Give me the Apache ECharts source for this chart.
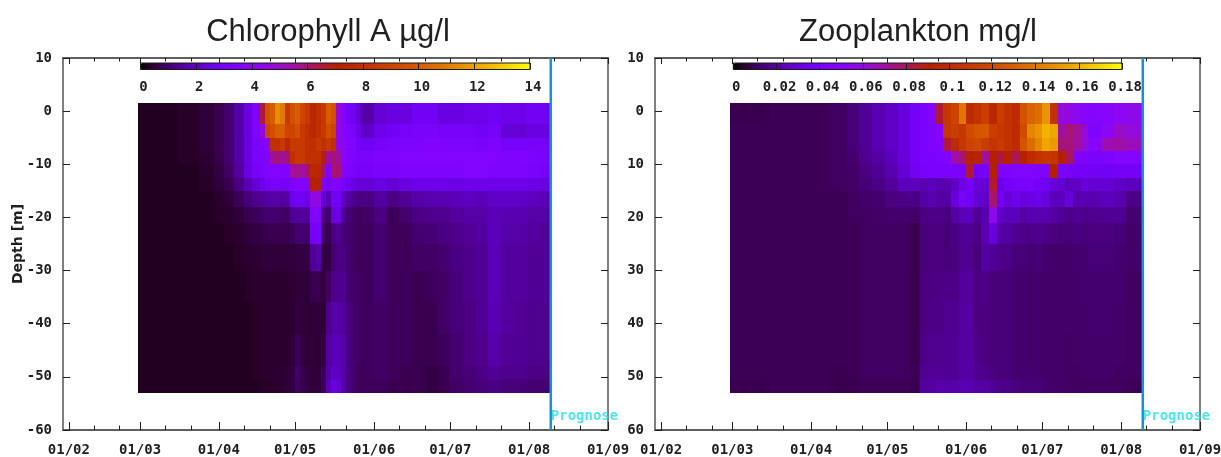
<!DOCTYPE html>
<html><head><meta charset="utf-8">
<style>html,body{margin:0;padding:0;background:#fff}#c{width:1221px;height:457px;filter:blur(0.5px)}</style>
<script src="https://cdn.jsdelivr.net/npm/echarts@6/dist/echarts.min.js"></script>
</head><body><div id="c"></div>
<script>
const titles = ['Chlorophyll A µg/l', 'Zooplankton mg/l'];
const majorDays = [32, 60, 91, 121, 152, 182, 213, 244];
const monthLabels = ['01/02','01/03','01/04','01/05','01/06','01/07','01/08','01/09'];
const minorDays = [42,52,70,80,101,111,131,141,162,172,192,202,223,233];
const depthTicks = [-60,-50,-40,-30,-20,-10,0,10];
const depthLabelsLeft = ['-60','-50','-40','-30','-20','-10','0','10'];
const depthLabelsRight = ['60','50','40','30','20','10','0','10'];
const chlBarLabels = ['0','2','4','6','8','10','12','14'];
const zooBarLabels = ['0','0.02','0.04','0.06','0.08','0.1','0.12','0.14','0.16','0.18'];
const prognoseDay = 221.5;
const prognoseLabelDepth = -57.4;
const palette = ['#000000','#280028','#39004f','#460074','#510096','#5a00b4','#6301ce','#6b01e3','#7202f3','#7903fc','#8004ff','#8605fc','#8c07f3','#9109e3','#970bce','#9c0db4','#a11096','#a61474','#ab174f','#b01b28','#b42000','#b92500','#bd2a00','#c13000','#c63700','#ca3e00','#ce4600','#d14e00','#d55700','#d96100','#dd6c00','#e07700','#e48300','#e88f00','#eb9d00','#eeab00','#f2ba00','#f5ca00','#f9db00','#fcec00','#ffff00'];
const depthEdges = [1.5,-2.5,-5,-7.5,-10,-12.5,-15,-18,-21,-25,-30,-36,-42,-48,-50.5,-53];
const chlDayEdges = [59,67,75,83,89,93,97,101,104,107,109,111,113,115,117,119,121,123,125,127,129,131,133,135,137,139,141,143,145,147,152,157,162,167,172,177,182,187,192,197,202,207,212,217,221.2];
const zooDayEdges = [59.2,75,90,98,105,110,115,120,125,130,134,137,140,143,146,149,152,155,158,161,164,167,170,173,176,179,182,185,188,191,194,197,200,205,210,215,221.6];
// µg/l, one inner list per time column, surface to bottom
const chlColumns = [
[.3,.3,.3,.3,.3,.3,.3,.3,.3,.3,.3,.3,.3,.3,.3],
[.3,.3,.3,.3,.3,.3,.3,.3,.3,.3,.3,.3,.3,.3,.3],
[.35,.35,.35,.35,.3,.3,.3,.3,.3,.3,.3,.3,.3,.3,.3],
[.5,.5,.5,.45,.4,.35,.3,.3,.3,.3,.3,.3,.3,.3,.3],
[.7,.7,.7,.65,.6,.5,.4,.35,.3,.3,.3,.3,.3,.3,.3],
[1,1,1,1,.9,.7,.5,.4,.35,.3,.3,.3,.3,.3,.3],
[1.6,1.6,1.6,1.6,1.5,1.2,.8,.5,.4,.35,.3,.3,.3,.3,.3],
[2.4,2.4,2.4,2.4,2.4,1.8,1.1,.7,.5,.4,.35,.3,.3,.3,.3],
[3.4,3.4,3.2,3.2,3,2.2,1.3,.8,.6,.45,.4,.35,.35,.35,.3],
[6.5,4.5,3.6,3.4,3.2,2.6,1.4,.9,.6,.5,.4,.4,.4,.4,.35],
[9.5,9,3.8,3.6,3.4,3,1.5,1,.7,.5,.4,.4,.4,.4,.35],
[10,9.5,8,5.5,3.6,3.2,1.6,1,.7,.5,.4,.4,.4,.4,.35],
[11.5,10,8,6,3.6,3.2,1.6,1,.7,.5,.4,.4,.4,.4,.4],
[11,10,8.5,5.5,3.4,3,1.5,.9,.7,.5,.4,.4,.4,.45,.45],
[8.5,9,7.5,6,3.6,3,1.6,.9,.7,.5,.4,.4,.45,.5,.5],
[9.5,9,8.5,8,5.5,3.4,2.6,1.4,.8,.5,.45,.45,.5,.6,.6],
[10,9.5,8.5,8.5,5.8,3.6,2.8,1.5,1,.6,.5,.6,.8,1,.9],
[9,8.5,8.5,8.5,5.5,3.5,2.8,1.5,1,.6,.5,.5,.6,.7,.7],
[8.5,8,8,8,6,3.5,2.6,1.4,.9,.6,.45,.45,.45,.5,.5],
[7.5,7.5,8,8,7.5,7,4.5,3.5,3,1.4,.7,.5,.5,.5,.5],
[8,8,8.5,8,7.5,7,4.5,3.6,3.2,1.6,.7,.5,.45,.5,.5],
[8.5,8.5,8,7,6,3.5,2.2,1.2,.9,.6,.5,.45,.6,.8,.8],
[10,9.5,8.5,5.5,3.6,3.2,1.8,1,.7,.6,.9,1.3,1.5,1.6,1.8],
[9.5,9,8,6,6,3.5,2.8,2.4,1.2,1,1.3,1.6,1.8,2,2.4],
[4.8,4.5,4.5,5.5,6,3.4,2.8,2.6,1.4,1.2,1.3,1.6,1.8,1.9,2.2],
[3.6,3.8,4,4,3.8,3,2,1.4,1.1,1.2,1.4,1.5,1.6,1.6,1.6],
[3,3.4,3.6,3.6,3.4,2.8,1.6,1.1,1,1,1,1.2,1.2,1.2,1.2],
[2.8,3.2,3.5,3.5,3.2,2.4,1.3,.9,.9,.9,1,1,1,1,1],
[2.2,2.6,3,3.2,3,2.2,1.2,.8,.8,.8,.9,.9,.9,.8,.8],
[1.6,2,2.8,3.2,3,2.2,1.2,.9,.8,.8,.8,.8,.8,.8,.8],
[2.2,2.6,3,3.4,3.2,2.4,1.5,1.2,1,1,1,.9,.9,.9,.8],
[2.4,2.8,3.2,3.4,3.2,2.2,1.2,.8,.8,.8,.8,.8,.8,.8,.7],
[2.4,3,3.4,3.6,3.4,2.4,1.4,1,.8,.8,.8,.8,.8,.7,.7],
[2.8,3.2,3.4,3.6,3.4,2.6,1.6,1.2,1,.9,.7,.7,.7,.7,.7],
[2.8,3.2,3.6,3.6,3.4,2.6,1.7,1.3,1.1,.9,.8,.7,.7,.6,.6],
[2.4,3,3.4,3.6,3.4,2.6,1.7,1.3,1.2,1,.9,.9,.8,.7,.7],
[2.4,3,3.4,3.6,3.4,2.5,1.8,1.5,1.3,1.2,1.1,1.1,1,1,.9],
[2.6,3,3.4,3.6,3.5,2.6,1.9,1.6,1.4,1.3,1.3,1.2,1.2,1.1,1],
[2.6,2.8,3.2,3.6,3.5,2.6,1.8,1.6,1.5,1.4,1.4,1.4,1.3,1.2,1.1],
[2.8,3,3.4,3.6,3.4,2.6,2,1.8,1.8,1.8,1.8,1.7,1.6,1.4,1.2],
[2.6,2.2,3,3.4,3.4,2.6,2,1.7,1.6,1.5,1.5,1.5,1.4,1.3,1.1],
[2.6,2.2,3,3.5,3.4,2.6,2,1.7,1.6,1.5,1.5,1.4,1.4,1.3,1.1],
[2.8,2.4,3,3.3,3.2,2.5,1.9,1.6,1.5,1.4,1.4,1.3,1.3,1.2,1],
[2.8,2.4,3,3.2,3,2.4,1.8,1.6,1.4,1.4,1.4,1.3,1.3,1.2,1]
];
// µg/l (axis labelled in mg/l)
const zooColumns = [
[9,10,10,10,10,10,10,10,10,10,10,10,10,10,9],
[10,10,10,10,10,10,10,10,10,10,10,10,10,10,10],
[10,10,10,10,10,10,10,10,10,10,10,10,10,10,10],
[11,11,11,11,11,11,10,10,10,10,10,10,10,9,9],
[14,14,14,13,12,12,11,11,10,10,10,10,10,10,9],
[18,18,18,17,15,14,12,11,11,11,11,11,11,11,10],
[22,22,22,20,18,16,13,12,11,11,11,11,11,11,10],
[26,26,26,24,22,19,15,13,11,11,11,11,11,11,10],
[30,30,30,30,28,24,16,13,11,11,11,11,11,11,10],
[38,38,38,38,36,24,16,12,9,9,9,9,9,10,9],
[42,42,42,42,40,22,20,15,14,14,15,15,16,17,19],
[46,44,44,42,42,24,22,16,15,15,15,16,17,18,20],
[84,50,46,44,42,22,20,16,15,15,16,16,17,18,21],
[108,108,84,46,42,22,20,15,14,14,16,17,17,18,21],
[116,112,100,70,42,26,30,20,16,15,16,17,18,18,21],
[140,108,108,76,42,34,40,24,18,18,19,20,20,20,22],
[100,120,116,92,84,38,36,24,18,17,19,20,20,20,22],
[104,125,118,94,38,30,28,18,15,14,15,15,16,17,20],
[112,126,112,70,40,28,26,22,22,20,16,15,15,16,20],
[96,112,106,90,90,85,78,56,30,18,14,14,14,15,18],
[112,108,110,82,44,34,38,26,20,16,14,14,14,14,16],
[104,104,104,92,44,38,30,24,20,16,14,14,14,14,16],
[100,100,100,80,46,40,34,24,17,14,13,13,13,13,15],
[124,120,125,92,46,40,30,20,16,14,13,13,13,13,14],
[132,145,135,100,46,42,32,22,16,13,12,12,12,13,14],
[136,150,145,105,44,38,34,22,17,14,13,13,13,13,14],
[150,160,156,108,44,36,30,22,16,13,12,12,12,12,13],
[104,156,152,106,90,30,24,20,15,12,12,12,12,12,12],
[60,70,76,90,42,28,24,18,14,12,12,12,12,12,12],
[58,76,76,80,40,24,30,16,14,12,12,12,11,11,11],
[54,72,70,46,38,26,22,18,15,13,12,12,12,11,11],
[50,60,62,44,38,30,22,16,14,13,13,12,12,12,11],
[48,44,50,42,36,28,22,17,15,14,13,13,12,12,11],
[50,52,68,44,36,28,24,18,15,14,13,13,12,12,11],
[54,64,70,48,38,26,22,18,14,13,13,12,12,11,11],
[56,60,66,48,38,24,16,13,12,12,11,11,11,11,10]
];

const INK = '#1f1f1f', FRAME = '#555555';
const MONO = {fontFamily:'"DejaVu Sans Mono"', fontWeight:'bold', fontSize:14, color:INK};
const PANELS = [
  {left:63, xMin:29.7, grid:{l:63,w:545}, bar:{l:140.5,w:389.5}, barMax:14, barInterval:2, barLabels:chlBarLabels, depthLabels:depthLabelsLeft, edges:chlDayEdges, cols:chlColumns, name:'Depth [m]'},
  {left:655, xMin:29.6, grid:{l:655,w:545}, bar:{l:733.3,w:388.7}, barMax:180, barInterval:20, barLabels:zooBarLabels, depthLabels:depthLabelsRight, edges:zooDayEdges, cols:zooColumns, name:''}
];

function rows(edges, cols){
  const out = [];
  cols.forEach((col,i)=>col.forEach((v,j)=>out.push([edges[i],edges[i+1],depthEdges[j],depthEdges[j+1],v])));
  return out;
}
function renderCell(params, api){
  const a = api.coord([api.value(0), api.value(2)]);
  const b = api.coord([api.value(1), api.value(3)]);
  const x = Math.round(a[0]), y = Math.round(a[1]);
  return {type:'rect', shape:{x, y, width:Math.round(b[0])-x, height:Math.round(b[1])-y}, style:{fill:api.visual('color')}};
}
function xAxisFor(gi, xMin, position, values, len, withLabels){
  return {type:'value', gridIndex:gi, position, min:xMin, max:244, splitLine:{show:false},
    axisLine:{show:true, onZero:false, lineStyle:{color:FRAME, width:1.5}},
    axisTick:{show:true, inside:true, length:len, customValues:values, lineStyle:{color:INK, width:1}},
    axisLabel: withLabels ? Object.assign({show:true, margin:13, customValues:values, hideOverlap:false,
      formatter:v=>monthLabels[majorDays.indexOf(v)]}, MONO) : {show:false}};
}
function yAxisFor(gi, position, labels, name){
  return {type:'value', gridIndex:gi, position, min:-60, max:10, interval:10, splitLine:{show:false},
    name, nameLocation:'middle', nameGap:38, nameMoveOverlap:false,
    nameTextStyle:{fontFamily:'"DejaVu Sans"', fontWeight:'bold', fontSize:14, color:INK},
    axisLine:{show:true, onZero:false, lineStyle:{color:FRAME, width:1.5}},
    axisTick:{show:true, inside:true, length:7, lineStyle:{color:INK, width:1}},
    axisLabel: labels ? Object.assign({show:true, margin:11, formatter:v=>labels[depthTicks.indexOf(v)]}, MONO) : {show:false}};
}
const grid=[], xAxis=[], yAxis=[], series=[], visualMap=[];
PANELS.forEach((p,k)=>{
  const gi = grid.length;
  grid.push({left:p.grid.l, width:p.grid.w, top:58, height:372, show:false, outerBoundsMode:'none'});
  const base = xAxis.length, yb = yAxis.length;
  xAxis.push(xAxisFor(gi,p.xMin,'bottom',majorDays,8,true), xAxisFor(gi,p.xMin,'bottom',minorDays,4.5,false),
             xAxisFor(gi,p.xMin,'top',majorDays,6,false), xAxisFor(gi,p.xMin,'top',minorDays,3.5,false));
  yAxis.push(yAxisFor(gi,'left',p.depthLabels,p.name), yAxisFor(gi,'right',null,''));
  const cellSeries = series.length;
  series.push({type:'custom', xAxisIndex:base, yAxisIndex:yb, renderItem:renderCell, silent:true, clip:false, z:1,
    encode:{x:[0,1], y:[2,3]}, data:rows(p.edges,p.cols)});
  series.push({type:'line', xAxisIndex:base, yAxisIndex:yb, silent:true, showSymbol:false, clip:false, z:3,
    lineStyle:{color:'#1b8fd2', width:2.5}, data:[[prognoseDay,-60],[prognoseDay,10]]});
  series.push({type:'scatter', xAxisIndex:base, yAxisIndex:yb, silent:true, symbolSize:0, clip:false, z:4,
    label:Object.assign({show:true, position:'right', distance:0, formatter:'Prognose'}, MONO, {color:'#22dfe8'}),
    data:[[prognoseDay,prognoseLabelDepth]]});
  const gb = grid.length;
  grid.push({left:p.bar.l, width:p.bar.w, top:63, height:6.5, show:true, z:6, backgroundColor:'transparent', borderColor:'#1a1a1a', borderWidth:1, outerBoundsMode:'none'});
  xAxis.push({type:'value', gridIndex:gb, z:6, min:0, max:p.barMax, interval:p.barInterval, position:'bottom', splitLine:{show:false},
    axisLine:{show:false, onZero:false}, axisTick:{show:true, inside:true, length:6.5, lineStyle:{color:'#1a1a1a', width:1}},
    axisLabel:Object.assign({show:true, margin:11, showMinLabel:true, showMaxLabel:true, hideOverlap:false, padding:[0,0,0,6],
      formatter:(v)=>p.barLabels[Math.round(v/p.barInterval)]}, MONO)});
  yAxis.push({type:'value', gridIndex:gb, min:0, max:1, show:false});
  visualMap.push({type:'continuous', seriesIndex:cellSeries, dimension:4, min:0, max:p.barMax, orient:'horizontal',
    left:p.bar.l, top:63, itemWidth:6.5, itemHeight:p.bar.w, padding:0, showLabel:false, calculable:false, hoverLink:false, text:null, z:5,
    inRange:{color:palette}});
});
const chart = echarts.init(document.getElementById('c'), null, {renderer:'canvas'});
chart.setOption({
  animation:false, backgroundColor:'#ffffff',
  title:[
    {text:titles[0], left:323, top:12, textAlign:'center', textStyle:{fontFamily:'"Liberation Sans"', fontWeight:'normal', fontSize:31, color:'#1f1f1f'}},
    {text:titles[1], left:913, top:12, textAlign:'center', textStyle:{fontFamily:'"Liberation Sans"', fontWeight:'normal', fontSize:31, color:'#1f1f1f'}}
  ],
  grid, xAxis, yAxis, series, visualMap
});
</script></body></html>
